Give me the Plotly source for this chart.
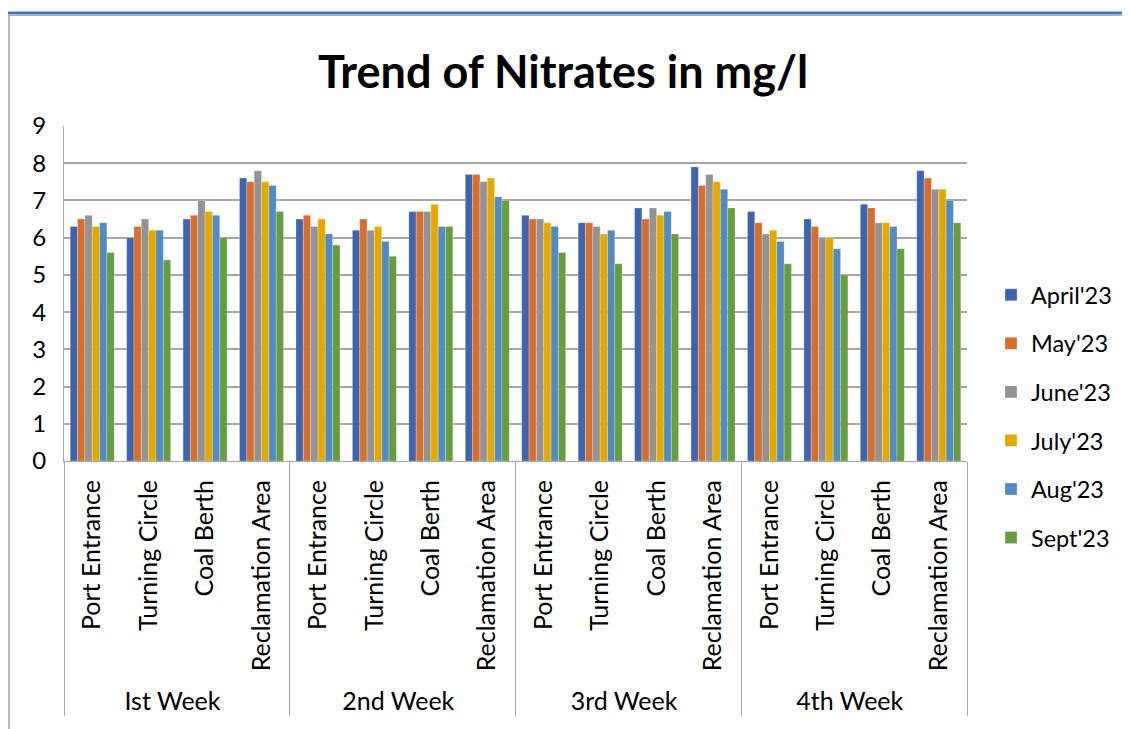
import plotly.graph_objects as go

weeks = ["Ist Week", "2nd Week", "3rd Week", "4th Week"]
sites = ["Port Entrance", "Turning Circle", "Coal Berth", "Reclamation Area"]
months = ["April'23", "May'23", "June'23", "July'23", "Aug'23", "Sept'23"]

# values ordered week by week, site by site
april = [6.3, 6.0, 6.5, 7.6,  6.5, 6.2, 6.7, 7.7,  6.6, 6.4, 6.8, 7.9,  6.7, 6.5, 6.9, 7.8]
may   = [6.5, 6.3, 6.6, 7.5,  6.6, 6.5, 6.7, 7.7,  6.5, 6.4, 6.5, 7.4,  6.4, 6.3, 6.8, 7.6]
june  = [6.6, 6.5, 7.0, 7.8,  6.3, 6.2, 6.7, 7.5,  6.5, 6.3, 6.8, 7.7,  6.1, 6.0, 6.4, 7.3]
july  = [6.3, 6.2, 6.7, 7.5,  6.5, 6.3, 6.9, 7.6,  6.4, 6.1, 6.6, 7.5,  6.2, 6.0, 6.4, 7.3]
aug   = [6.4, 6.2, 6.6, 7.4,  6.1, 5.9, 6.3, 7.1,  6.3, 6.2, 6.7, 7.3,  5.9, 5.7, 6.3, 7.0]
sept  = [5.6, 5.4, 6.0, 6.7,  5.8, 5.5, 6.3, 7.0,  5.6, 5.3, 6.1, 6.8,  5.3, 5.0, 5.7, 6.4]
series = [april, may, june, july, aug, sept]
colors = ["#3F64AE", "#D66F2D", "#939393", "#E2AA00", "#518BC1", "#669D40"]

outer = [w for w in weeks for _ in sites]
inner = [s for _ in weeks for s in sites]

FONT = "Lato"

fig = go.Figure()
for i, (name, vals, col) in enumerate(zip(months, series, colors)):
    fig.add_trace(go.Bar(
        x=[outer, inner], y=vals, name=name,
        marker=dict(color=col, line=dict(color="rgba(255,255,255,0.5)", width=0.5)),
        legendgroup=str(i),
    ))

# page is shown with an 8px body margin, so figure coords = page coords - 8
W, H = 1122, 721
L, R, T, B = 56, 163, 118, 268
pw, ph = W - L - R, H - T - B

def px_x(p):
    return (p - L) / pw

def px_y(p):
    return (H - B - p) / ph

fig.update_layout(
    width=W, height=H,
    margin=dict(l=L, r=R, t=T, b=B, autoexpand=False),
    paper_bgcolor="white", plot_bgcolor="white",
    barmode="group", bargap=0.22, bargroupgap=0,
    font=dict(family=FONT, size=24, color="black"),
    title=dict(text="<b>Trend of Nitrates in mg/l</b>", xref="container", x=555 / W,
               xanchor="center", y=(H - 64) / H, yanchor="middle",
               font=dict(family=FONT, size=45, color="black")),
    legend=dict(x=px_x(983), xanchor="left", y=px_y(265), yanchor="top",
                font=dict(family=FONT, size=23.5), tracegroupgap=15,
                traceorder="grouped", itemwidth=30, bgcolor="rgba(0,0,0,0)"),
    xaxis=dict(type="multicategory", tickangle=-90, showline=True, linecolor="#A6A6A6",
               linewidth=1, showdividers=True, dividercolor="#A6A6A6", dividerwidth=1,
               ticks="", tickfont=dict(family=FONT, size=25), ticklabelstandoff=8),
    yaxis=dict(range=[0, 9], dtick=1, showgrid=True, gridcolor="#A6A6A6", gridwidth=1.5,
               showline=True, linecolor="#A6A6A6", linewidth=1, ticks="",
               zeroline=False, tickfont=dict(family=FONT, size=24), ticklabelstandoff=12),
    shapes=[
        dict(type="line", xref="paper", yref="paper", x0=px_x(-10), x1=px_x(W + 10),
             y0=px_y(7.5), y1=px_y(7.5), line=dict(color="#B0B0B0", width=1)),
        dict(type="line", xref="paper", yref="paper", x0=px_x(-10), x1=px_x(W + 10),
             y0=px_y(5), y1=px_y(5), line=dict(color="#4472C4", width=3)),
        dict(type="line", xref="paper", yref="paper", x0=px_x(1), x1=px_x(1),
             y0=px_y(7), y1=px_y(H + 10), line=dict(color="#A6A6A6", width=1.5)),
    ],
)

fig.write_html("out.html")
